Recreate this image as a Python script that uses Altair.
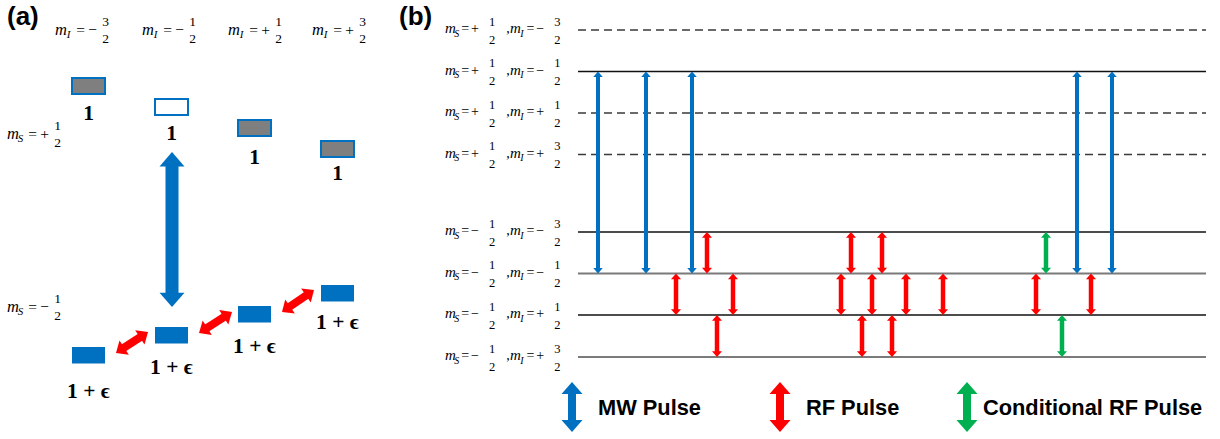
import math
import altair as alt
import pandas as pd

W, H = 1220, 439
BLUE, RED, GREEN, GRAY = "#0070C0", "#FF0000", "#00B050", "#7F7F7F"
MINUS = "\u2212"

# ---------------- panel (b): energy levels ----------------
ms_sign = ["+", "+", "+", "+", MINUS, MINUS, MINUS, MINUS]
mi_sign = [MINUS, MINUS, "+", "+", MINUS, MINUS, "+", "+"]
mi_num = ["3", "1", "1", "3", "3", "1", "1", "3"]
level_y = [30, 71.5, 113, 154.5, 232, 273.5, 315, 357]
level_style = ["dash", "solid", "dash", "dash", "solid", "grey", "solid", "grey"]
level_x = [578, 1206]
label_x = 445.5

# transitions: x position and the level indices they connect
mw_x = [598, 646, 692, 1077, 1112]
mw_levels = [1, 5]
rf_x = [707, 851, 882, 676, 733, 841, 872, 906, 943, 1036, 1091, 717, 862, 892]
rf_upper = [4, 4, 4, 5, 5, 5, 5, 5, 5, 5, 5, 6, 6, 6]
cond_x = [1046, 1062]
cond_upper = [4, 6]

# ---------------- panel (a) ----------------
mi_head_x = [55, 142, 228, 312]
mi_head_sign = [MINUS, MINUS, "+", "+"]
mi_head_num = ["3", "1", "1", "3"]
mi_head_y = 31
ms_head_x = 7
ms_head_y = [135, 308]
ms_head_sign = ["+", MINUS]

box_x = [72, 155, 238, 321]
box_w = 33
box_h = 16
up_box_y = [78, 99, 120, 141]
up_fill = [GRAY, "white", GRAY, GRAY]
up_label = ["1", "1", "1", "1"]
up_label_y = [120, 140, 164, 180]
low_box_y = [347, 327, 306, 285]
low_label = ["1 + \u03f5"] * 4
low_label_y = [398, 374, 353, 329]

mw_big = [(172, 152), (172, 307)]
rf_diag = [((116, 353), (148, 332)), ((199, 333), (232, 312)), ((282, 312), (314, 290))]

# ---------------- legend / tags ----------------
legend_x = [572, 780, 967]
legend_tips = [382, 432]
legend_color = [BLUE, RED, GREEN]
legend_text = ["MW Pulse", "RF Pulse", "Conditional RF Pulse"]
legend_text_x = [598, 806, 983]
legend_text_y = 414.5
panel_tags = ["(a)", "(b)"]
panel_tag_x = [7, 399]
panel_tag_y = 25

# ================= build tables =================
xs = alt.Scale(domain=[0, W], nice=False, zero=False)
ys = alt.Scale(domain=[0, H], nice=False, zero=False, reverse=True)
X = lambda f="x": alt.X(f"{f}:Q", scale=xs, axis=None)
Y = lambda f="y": alt.Y(f"{f}:Q", scale=ys, axis=None)

levels = pd.DataFrame({"y": level_y, "style": level_style})
levels["x"] = level_x[0]
levels["x2"] = level_x[1]

shafts, heads = [], []


def arrow(p1, p2, color, sw, hw):
    (x1, y1), (x2, y2) = p1, p2
    L = math.hypot(x2 - x1, y2 - y1)
    ux, uy = (x2 - x1) / L, (y2 - y1) / L
    s = 0.5 * hw * 1.15 * 0.8
    shafts.append(dict(x=x1 + ux * s, y=y1 + uy * s, x2=x2 - ux * s, y2=y2 - uy * s,
                       color=color, sw=sw))
    for (tx, ty), (dx, dy) in (((x1, y1), (-ux, -uy)), ((x2, y2), (ux, uy))):
        ang = math.degrees(math.atan2(dx, -dy)) % 360
        heads.append(dict(x=tx, y=ty, color=color, size=hw * hw, angle=ang))


for x in mw_x:
    arrow((x, level_y[mw_levels[0]]), (x, level_y[mw_levels[1]]), BLUE, 4, 9.5)
for x, u in zip(rf_x, rf_upper):
    arrow((x, level_y[u]), (x, level_y[u + 1]), RED, 4.5, 10)
for x, u in zip(cond_x, cond_upper):
    arrow((x, level_y[u]), (x, level_y[u + 1]), GREEN, 4.5, 10)
arrow(mw_big[0], mw_big[1], BLUE, 13, 25)
for p1, p2 in rf_diag:
    arrow(p1, p2, RED, 8, 17)
for x, c in zip(legend_x, legend_color):
    arrow((x, legend_tips[0]), (x, legend_tips[1]), c, 8, 21)

shafts = pd.DataFrame(shafts)
heads = pd.DataFrame(heads)

# math text pieces
LB = dict(m=4.8, sub=11.2, eq=19.8, sign=29.5, frac=46.7,
          fm=15, fs=10, fe=14, fd=12.5, ym=3.2, ys=6.5, yn=-4.5, yd=13.5)
LA = dict(m=6, sub=13.5, eq=25.5, sign=37.5, frac=50.5,
          fm=16.5, fs=11, fe=15.5, fd=13.5, ym=3.5, ys=7, yn=-5.5, yd=11.8)
italic, regular = [], []


def group(x0, yax, sub, sign, num, L):
    italic.append(dict(x=x0 + L["m"], y=yax + L["ym"], t="m", s=L["fm"]))
    italic.append(dict(x=x0 + L["sub"], y=yax + L["ys"], t=sub, s=L["fs"]))
    regular.append(dict(x=x0 + L["eq"], y=yax + L["ym"], t="=", s=L["fe"]))
    regular.append(dict(x=x0 + L["sign"], y=yax + L["ym"], t=sign, s=L["fe"]))
    regular.append(dict(x=x0 + L["frac"], y=yax + L["yn"], t=num, s=L["fd"]))
    regular.append(dict(x=x0 + L["frac"], y=yax + L["yd"], t="2", s=L["fd"]))


for yv, a, b, n in zip(level_y, ms_sign, mi_sign, mi_num):
    group(label_x, yv, "S", a, "1", LB)
    regular.append(dict(x=label_x + 62.6, y=yv + LB["ym"], t=",", s=LB["fe"]))
    group(label_x + 65.2, yv, "I", b, n, LB)
for x0, a, n in zip(mi_head_x, mi_head_sign, mi_head_num):
    group(x0, mi_head_y, "I", a, n, LA)
for yv, a in zip(ms_head_y, ms_head_sign):
    group(ms_head_x, yv, "S", a, "1", LA)

italic = pd.DataFrame(italic)
regular = pd.DataFrame(regular)

boxes_up = pd.DataFrame({"x": box_x, "y": up_box_y, "fill": up_fill})
boxes_up["x2"] = boxes_up["x"] + box_w
boxes_up["y2"] = boxes_up["y"] + box_h
boxes_low = pd.DataFrame({"x": box_x, "y": low_box_y})
boxes_low["x2"] = boxes_low["x"] + box_w
boxes_low["y2"] = boxes_low["y"] + box_h + 0.5

bold_serif = pd.DataFrame({
    "x": [b + box_w / 2 for b in box_x] * 2,
    "y": up_label_y + low_label_y,
    "t": up_label + low_label,
})
sans = pd.DataFrame({
    "x": legend_text_x + panel_tag_x,
    "y": [legend_text_y] * 3 + [panel_tag_y] * 2,
    "t": legend_text + panel_tags,
    "s": [21.8, 21.8, 21.8, 26, 26],
})

# ================= layers =================
lv = alt.Chart(levels)
dash_l = lv.mark_rule(color="#3a3a3a", strokeWidth=1.3, strokeDash=[8, 5]).encode(
    x=X(), x2="x2:Q", y=Y()).transform_filter(alt.datum.style == "dash")
solid_l = lv.mark_rule(color="#111111", strokeWidth=1.3).encode(
    x=X(), x2="x2:Q", y=Y()).transform_filter(alt.datum.style == "solid")
grey_l = lv.mark_rule(color="#7a7a7a", strokeWidth=2.2).encode(
    x=X(), x2="x2:Q", y=Y()).transform_filter(alt.datum.style == "grey")

up_rect = alt.Chart(boxes_up).mark_rect(stroke=BLUE, strokeWidth=2).encode(
    x=X(), x2="x2:Q", y=Y(), y2="y2:Q", fill=alt.Fill("fill:N", scale=None))
low_rect = alt.Chart(boxes_low).mark_rect(fill=BLUE).encode(
    x=X(), x2="x2:Q", y=Y(), y2="y2:Q")

shaft_l = alt.Chart(shafts).mark_rule().encode(
    x=X(), y=Y(), x2="x2:Q", y2="y2:Q",
    color=alt.Color("color:N", scale=None),
    strokeWidth=alt.StrokeWidth("sw:Q", scale=None))
head_l = alt.Chart(heads).mark_point(
    shape="M0,0L-1,1.15L1,1.15Z", filled=True, opacity=1, strokeWidth=0).encode(
    x=X(), y=Y(),
    color=alt.Color("color:N", scale=None),
    size=alt.Size("size:Q", scale=None),
    angle=alt.Angle("angle:Q", scale=None))

it_l = alt.Chart(italic).mark_text(
    font="Liberation Serif", fontStyle="italic", align="center", baseline="alphabetic",
    color="#000000").encode(x=X(), y=Y(), text="t:N", size=alt.Size("s:Q", scale=None))
reg_l = alt.Chart(regular).mark_text(
    font="Liberation Serif", align="center", baseline="alphabetic",
    color="#000000").encode(x=X(), y=Y(), text="t:N", size=alt.Size("s:Q", scale=None))
bs_l = alt.Chart(bold_serif).mark_text(
    font="Liberation Serif", fontWeight="bold", fontSize=21.5, align="center",
    baseline="alphabetic", color="black").encode(x=X(), y=Y(), text="t:N")
sans_l = alt.Chart(sans).mark_text(
    font="Liberation Sans", fontWeight="bold", align="left", baseline="alphabetic",
    color="black").encode(x=X(), y=Y(), text="t:N", size=alt.Size("s:Q", scale=None))

chart = alt.layer(
    dash_l, solid_l, grey_l, up_rect, low_rect, shaft_l, head_l,
    it_l, reg_l, bs_l, sans_l
).properties(width=W, height=H, padding=0, autosize="none").configure_view(stroke=None)

chart.save("out.html", embed_options={"renderer": "svg", "actions": False})
